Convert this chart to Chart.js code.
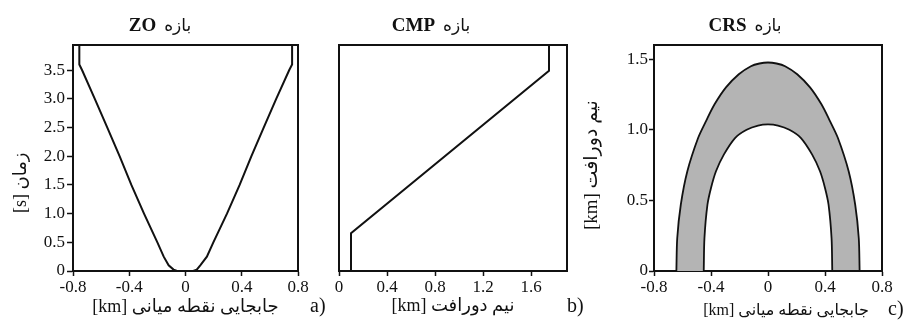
<!DOCTYPE html>
<html>
<head>
<meta charset="utf-8">
<script src="https://cdn.jsdelivr.net/npm/chart.js@4.4.0/dist/chart.umd.min.js"></script>
<style>
  body { margin: 0; background: #fff; }
  #wrap { position: relative; width: 911px; height: 320px; overflow: hidden; }
  canvas { position: absolute; top: 0; }
  .ttl { position: absolute; top: 14px; width: 160px; text-align: center; line-height: 22px; color: #111; }
  .ttl b { font: bold 19px 'Liberation Serif', serif; }
  .ttl span { font: 17px 'DejaVu Sans', sans-serif; }
  .tag { position: absolute; font: 20px 'Liberation Serif', serif; color: #111; }
</style>
</head>
<body>
<div id="wrap">
  <canvas id="zo" width="311" height="320" style="left:0"></canvas>
  <canvas id="cmp" width="280" height="320" style="left:311px"></canvas>
  <canvas id="crs" width="351" height="320" style="left:560px"></canvas>
  <div class="ttl" style="left:80px"><b>ZO</b>&nbsp; <span>بازه</span></div>
  <div class="ttl" style="left:351px"><b>CMP</b>&nbsp; <span>بازه</span></div>
  <div class="ttl" style="left:665px"><b>CRS</b>&nbsp; <span>بازه</span></div>
  <div class="tag" style="left:310px; top:294px">a)</div>
  <div class="tag" style="left:567px; top:294px">b)</div>
  <div class="tag" style="left:888px; top:297px">c)</div>
</div>
<script>
// ZO range: midpoint displacement [km] vs time [s]
const zoX = [-0.755, -0.755, -0.735, -0.645, -0.556, -0.468, -0.385, -0.295, -0.2, -0.155, -0.12, -0.085, -0.06,
             0.055, 0.08, 0.105, 0.152, 0.198, 0.295, 0.385, 0.468, 0.556, 0.645, 0.737, 0.758, 0.758];
const zoT = [3.94, 3.6, 3.5, 3.0, 2.5, 2.0, 1.5, 1.0, 0.5, 0.25, 0.1, 0.025, 0,
             0, 0.025, 0.1, 0.25, 0.5, 1.0, 1.5, 2.0, 2.5, 3.0, 3.5, 3.6, 3.94];

// CMP range: half offset [km] vs time [s]
const cmpH = [0.1, 0.1, 1.75, 1.75];
const cmpT = [0, 0.66, 3.49, 3.94];

// CRS range: outer boundary (left -> right) and inner boundary (right -> left)
// the end points are listed twice so the curve keeps sharp corners on the axis
const crsOuterX = [-0.643, -0.643, -0.637, -0.612, -0.566, -0.49, -0.435, -0.375, -0.295, -0.205, -0.12, -0.06, 0,
                   0.06, 0.12, 0.205, 0.295, 0.375, 0.435, 0.49, 0.566, 0.612, 0.637, 0.643, 0.643];
const crsOuterY = [0, 0, 0.232, 0.469, 0.706, 0.943, 1.061, 1.18, 1.3, 1.393, 1.45, 1.469, 1.476,
                   1.469, 1.45, 1.393, 1.3, 1.18, 1.061, 0.943, 0.706, 0.469, 0.232, 0, 0];
const crsInnerX = [0.451, 0.451, 0.446, 0.425, 0.4, 0.365, 0.31, 0.23, 0.15, 0.07, 0,
                   -0.07, -0.15, -0.23, -0.31, -0.365, -0.4, -0.425, -0.446, -0.451, -0.451];
const crsInnerY = [0, 0, 0.232, 0.469, 0.588, 0.706, 0.824, 0.943, 1.0, 1.03, 1.038,
                   1.03, 1.0, 0.943, 0.824, 0.706, 0.588, 0.469, 0.232, 0, 0];

// tick values
const xTicksMid = [-0.8, -0.4, 0, 0.4, 0.8];
const xTicksOff = [0, 0.4, 0.8, 1.2, 1.6];
const tTicks = [0, 0.5, 1.0, 1.5, 2.0, 2.5, 3.0, 3.5];
const hTicks = [0, 0.5, 1.0, 1.5];

const ink = '#111';
const shade = '#b4b4b4';
const serif = "'Liberation Serif', serif";
const mixed = "'Liberation Serif', 'DejaVu Sans', sans-serif";

Chart.defaults.color = ink;
Chart.defaults.animation = false;

const pts = (xs, ys) => xs.map((x, i) => ({ x: x, y: ys[i] }));
const fmt = v => (v === 0 ? '0' : v.toFixed(1));

// border-only axis, used to close the frame on top and right
function frameAxis(pos, size) {
  return {
    type: 'linear', position: pos,
    ticks: { display: false },
    grid: { drawOnChartArea: false, drawTicks: false },
    border: { display: true, color: ink, width: 2 },
    afterFit: s => { if (s.isHorizontal()) s.height = size; else s.width = size; }
  };
}

function valueAxis(pos, min, max, vals, size, opts) {
  return {
    type: 'linear', position: pos, min: min, max: max,
    afterBuildTicks: s => { s.ticks = vals.map(v => ({ value: v })); },
    ticks: {
      display: opts.labels !== false,
      callback: fmt,
      font: { family: serif, size: 17 },
      padding: opts.pad || 1,
      maxRotation: 0, autoSkip: false
    },
    grid: {
      drawOnChartArea: false, drawTicks: opts.ticks !== false,
      color: ink, tickLength: opts.tl || 5, tickWidth: 1.5
    },
    border: { display: true, color: ink, width: 2 },
    title: {
      display: !!opts.title, text: opts.title || '',
      font: { family: mixed, size: opts.tsize || 18 },
      padding: opts.tpad || { top: 0, bottom: 0 }
    },
    afterFit: s => { if (s.isHorizontal()) s.height = size; else s.width = size; }
  };
}

function lineSet(data, extra) {
  return Object.assign({
    data: data, borderColor: ink, borderWidth: 2,
    pointRadius: 0, tension: 0, fill: false
  }, extra || {});
}

const common = {
  responsive: false,
  events: [],
  plugins: { legend: { display: false }, tooltip: { enabled: false } }
};

new Chart(document.getElementById('zo'), {
  type: 'line',
  data: { datasets: [lineSet(pts(zoX, zoT))] },
  options: Object.assign({}, common, {
    scales: {
      x: valueAxis('bottom', -0.8, 0.8, xTicksMid, 49,
        { title: '[km] جابجایی نقطه میانی', tpad: { top: 0, bottom: 2 }, pad: 0 }),
      // trailing spaces push the rotated label down, as in the original figure
      y: valueAxis('left', 0, 3.94, tTicks, 73,
        { title: '[s] زمان           ', tpad: { top: 10, bottom: 0 }, tl: 6, pad: 2 }),
      x2: frameAxis('top', 45),
      y2: frameAxis('right', 13)
    }
  })
});

new Chart(document.getElementById('cmp'), {
  type: 'line',
  data: { datasets: [lineSet(pts(cmpH, cmpT))] },
  options: Object.assign({}, common, {
    scales: {
      x: valueAxis('bottom', 0, 1.9, xTicksOff, 49,
        { title: '[km] نیم دورافت', tpad: { top: 0, bottom: 3 }, pad: 0 }),
      y: valueAxis('left', 0, 3.94, tTicks, 28, { labels: false, ticks: false }),
      x2: frameAxis('top', 45),
      y2: frameAxis('right', 24)
    }
  })
});

new Chart(document.getElementById('crs'), {
  type: 'line',
  data: {
    datasets: [lineSet(pts(crsOuterX.concat(crsInnerX), crsOuterY.concat(crsInnerY)),
      { fill: 'shape', backgroundColor: shade, borderWidth: 1.8, tension: 0.3 })]
  },
  options: Object.assign({}, common, {
    scales: {
      x: valueAxis('bottom', -0.8, 0.8, xTicksMid, 49,
        { title: '         [km] جابجایی نقطه میانی', tsize: 16, tpad: { top: 0, bottom: 0 }, pad: 0 }),
      y: valueAxis('left', 0, 1.6, hTicks, 94,
        { title: '[km] نیم دورافت   ', tsize: 19, tpad: { top: 21, bottom: 0 }, tl: 5, pad: 1 }),
      x2: frameAxis('top', 45),
      y2: frameAxis('right', 29)
    }
  })
});
</script>
</body>
</html>
